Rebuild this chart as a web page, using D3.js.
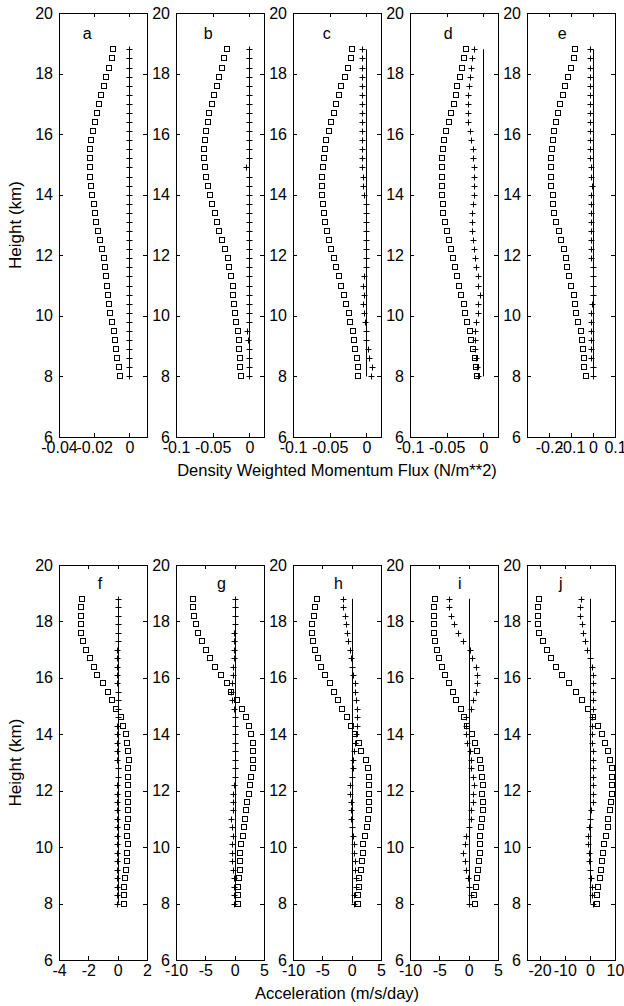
<!DOCTYPE html>
<html>
<head>
<meta charset="utf-8">
<script src="https://cdn.jsdelivr.net/npm/d3@7"></script>
<style>
  body { margin: 0; background: #fff; }
  svg { display: block; font-family: "Liberation Sans", Arial, sans-serif; }
</style>
</head>
<body>
<svg id="chart" width="624" height="1006"></svg>
<script>
// heights of the profile points (km)
var heights = [8.0, 8.3, 8.6, 8.9, 9.2, 9.5, 9.8, 10.1, 10.4, 10.7, 11.0, 11.3, 11.6, 11.9, 12.2, 12.5, 12.8, 13.1, 13.4,
    13.7, 14.0, 14.3, 14.6, 14.9, 15.2, 15.5, 15.8, 16.1, 16.4, 16.7, 17.0, 17.3, 17.6, 17.9, 18.2, 18.5, 18.8];

var panelNames = ["a", "b", "c", "d", "e", "f", "g", "h", "i", "j"];
var yTicks = [6, 8, 10, 12, 14, 16, 18, 20];
var xDomains = [[-0.04, 0.01], [-0.1, 0.02], [-0.1, 0.02], [-0.1, 0.02], [-0.3, 0.1],
    [-4, 2], [-10, 5], [-10, 5], [-10, 5], [-25, 10]];
var xTicks = [[-0.04, -0.02, 0], [-0.1, -0.05, 0], [-0.1, -0.05, 0], [-0.1, -0.05, 0], [-0.2, -0.1, 0, 0.1],
    [-4, -2, 0, 2], [-10, -5, 0, 5], [-10, -5, 0, 5], [-10, -5, 0, 5], [-20, -10, 0, 10]];
var letterX = [-0.024, -0.056, -0.054, -0.048, -0.14, -1.2, -2.25, -2.25, -1.5, -11.6];
var xLabels = ["Density Weighted Momentum Flux (N/m**2)", "Acceleration (m/s/day)"];

// squares
var squaresA = [-0.0054, -0.0061, -0.0069, -0.0074, -0.0080, -0.0087, -0.0100, -0.0109, -0.0115, -0.0120, -0.0128, -0.0135,
    -0.0141, -0.0146, -0.0156, -0.0167, -0.0180, -0.0187, -0.0193, -0.0202, -0.0210, -0.0217, -0.0224, -0.0224, -0.0224,
    -0.0224, -0.0220, -0.0207, -0.0193, -0.0185, -0.0172, -0.0159, -0.0144, -0.0131, -0.0115, -0.0100, -0.0091];
var squaresB = [-0.0113, -0.0122, -0.0126, -0.0140, -0.0144, -0.0153, -0.0176, -0.0189, -0.0203, -0.0216, -0.0225, -0.0248,
    -0.0275, -0.0293, -0.0329, -0.0369, -0.0410, -0.0446, -0.0473, -0.0513, -0.0531, -0.0563, -0.0590, -0.0608, -0.0621,
    -0.0621, -0.0603, -0.0590, -0.0563, -0.0545, -0.0513, -0.0482, -0.0446, -0.0414, -0.0378, -0.0342, -0.0302];
var squaresC = [-0.0120, -0.0120, -0.0134, -0.0156, -0.0169, -0.0187, -0.0219, -0.0236, -0.0277, -0.0308, -0.0343, -0.0379,
    -0.0410, -0.0446, -0.0477, -0.0513, -0.0533, -0.0558, -0.0580, -0.0589, -0.0602, -0.0605, -0.0598, -0.0589, -0.0580,
    -0.0558, -0.0544, -0.0513, -0.0477, -0.0446, -0.0410, -0.0379, -0.0343, -0.0290, -0.0254, -0.0214, -0.0201];
var squaresD = [-0.0089, -0.0103, -0.0120, -0.0143, -0.0165, -0.0178, -0.0223, -0.0254, -0.0263, -0.0299, -0.0326, -0.0357,
    -0.0388, -0.0410, -0.0442, -0.0473, -0.0495, -0.0522, -0.0544, -0.0549, -0.0566, -0.0566, -0.0566, -0.0566, -0.0566,
    -0.0544, -0.0531, -0.0513, -0.0473, -0.0437, -0.0406, -0.0379, -0.0361, -0.0321, -0.0290, -0.0263, -0.0241];
var squaresE = [-0.033, -0.039, -0.039, -0.044, -0.051, -0.056, -0.067, -0.075, -0.080, -0.086, -0.098, -0.109,
    -0.117, -0.122, -0.134, -0.145, -0.155, -0.168, -0.176, -0.181, -0.184, -0.189, -0.192, -0.192, -0.189,
    -0.187, -0.181, -0.176, -0.168, -0.161, -0.150, -0.137, -0.125, -0.114, -0.101, -0.087, -0.083];
var squaresF = [0.45, 0.45, 0.45, 0.52, 0.57, 0.64, 0.64, 0.68, 0.64, 0.64, 0.73, 0.73, 0.73, 0.73, 0.73, 0.73, 0.73,
    0.75, 0.68, 0.61, 0.55, 0.39, 0.20, -0.11, -0.41, -0.68, -1.02, -1.39, -1.61, -1.89, -2.16, -2.34, -2.52, -2.52,
    -2.52, -2.52, -2.45];
var squaresG = [0.56, 0.56, 0.56, 0.68, 0.85, 0.85, 0.96, 1.07, 1.36, 1.53, 1.81, 1.92, 2.09, 2.37, 2.66, 2.77, 3.05,
    3.10, 3.05, 3.05, 2.77, 2.37, 1.98, 1.24, 0.40, -0.56, -1.30, -2.26, -3.28, -4.12, -4.97, -5.65, -6.27, -6.67,
    -6.95, -7.12, -7.06];
var squaresH = [1.02, 1.02, 1.30, 1.30, 1.53, 1.69, 1.86, 1.98, 2.26, 2.54, 2.82, 3.0, 3.0, 3.0, 3.0, 3.0, 2.82,
    2.4, 1.6, 1.24, 0.5, -0.17, -0.73, -1.58, -2.26, -2.99, -3.67, -4.63, -5.20, -5.76, -6.33, -6.61, -6.78, -6.78,
    -6.50, -6.33, -5.93];
var squaresI = [1.02, 0.90, 1.19, 1.47, 1.58, 1.75, 1.86, 1.86, 1.98, 2.15, 2.32, 2.43, 2.43, 2.32, 2.43, 2.32, 2.03,
    1.86, 1.47, 1.02, 0.56, -0.23, -0.79, -1.36, -2.09, -2.66, -3.33, -3.95, -4.63, -5.03, -5.48, -5.76, -5.88, -5.88,
    -5.88, -5.88, -5.76];
var squaresJ = [2.7, 2.7, 3.3, 4.0, 4.4, 4.9, 5.3, 5.7, 6.3, 7.1, 7.3, 8.0, 8.4, 8.7, 8.7, 8.7, 8.7, 8.0, 7.1, 6.0,
    4.9, 3.1, 1.1, -0.9, -3.3, -5.7, -8.3, -10.9, -13.3, -15.3, -16.9, -18.7, -20.3, -20.7, -20.7, -20.7, -20.3];

// plus signs
var plusA = [0, 0, 0, 0, 0, 0, 0, 0, 0, 0, 0, 0, 0, 0, 0, 0, 0, 0, 0, 0, 0, 0, 0, 0, 0, 0, 0, 0, 0, 0, 0, 0, 0, 0, 0, 0, 0];
var plusB = [-0.001, -0.001, -0.001, -0.001, -0.002, -0.003, -0.001, -0.001, -0.001, -0.001, -0.001, 0, 0, 0, 0, 0, 0,
    0, 0, 0, 0, 0, 0, -0.004, 0, 0, 0, 0, 0, 0, 0, 0, 0, 0, 0, 0, 0];
var plusC = [0.0062, 0.0071, 0.0040, 0.0022, 0, 0, -0.0022, -0.0036, -0.0040, -0.0036, -0.0040, -0.0036, -0.0009,
    -0.0009, -0.0009, -0.0009, -0.0004, 0, 0, -0.001, -0.003, -0.004, -0.0049, -0.0062, -0.0062, -0.0062, -0.0062,
    -0.0062, -0.0062, -0.0062, -0.0062, -0.0062, -0.0062, -0.0062, -0.0062, -0.0062, -0.0058];
var plusD = [-0.0076, -0.0089, -0.0103, -0.0116, -0.0120, -0.0120, -0.0098, -0.0076, -0.0067, -0.0045, -0.0067, -0.0067,
    -0.0098, -0.0116, -0.0134, -0.0147, -0.0156, -0.0156, -0.0152, -0.0143, -0.0134, -0.0134, -0.0134, -0.0134, -0.0138,
    -0.0147, -0.0165, -0.0178, -0.0210, -0.0210, -0.0210, -0.0210, -0.0196, -0.0183, -0.0169, -0.0156, -0.0125];
var plusE = [-0.002, 0, -0.008, -0.011, -0.011, -0.011, -0.008, -0.008, -0.005, 0, 0.002, 0.002, 0, -0.008, -0.011,
    -0.011, -0.011, -0.011, -0.011, -0.011, -0.008, -0.005, -0.008, -0.011, -0.012, -0.012, -0.012, -0.012, -0.012,
    -0.012, -0.012, -0.012, -0.012, -0.012, -0.012, -0.012, -0.012];
var plusF = [-0.07, -0.07, -0.07, -0.07, -0.07, -0.07, -0.07, -0.07, -0.07, -0.07, -0.07, -0.07, -0.07, -0.07, -0.05,
    0, 0, -0.05, -0.05, -0.05, -0.05, -0.05, 0, 0.05, 0.05, 0, -0.07, -0.07, -0.07, -0.07, -0.07, 0, 0, 0, 0, 0, 0];
var plusG = [-0.17, -0.17, -0.17, -0.17, -0.34, -0.45, -0.45, -0.45, -0.34, -0.45, -0.56, -0.34, -0.28, -0.28, -0.17,
    0, 0, 0.11, 0.11, 0.11, 0.11, 0.11, 0, -0.17, -0.45, -0.56, -0.45, -0.34, -0.34, -0.17, -0.17, -0.17, -0.17,
    0, 0, 0, 0];
var plusH = [0.40, 0.45, 0.73, 0.73, 0.56, 0.56, 0.40, 0.40, 0.28, 0, -0.1, -0.17, -0.17, -0.28, -0.28, 0, 0.28,
    0.17, 0.4, 0.5, 0.73, 0.85, 0.96, 0.96, 0.73, 0.56, 0.56, 0.28, 0, -0.11, -0.28, -0.56, -0.73, -0.96, -1.13,
    -1.41, -1.41];
var plusI = [0, 0.45, 0.06, -0.1, -0.40, -0.68, -0.96, -0.56, -0.40, 0, 0.34, 0.45, 0.73, 0.73, 0.85, 0.73, 0.45,
    0.34, 0.17, -0.23, -0.5, -0.40, -0.40, 0.34, 0.73, 1.30, 1.47, 1.47, 1.30, 0.56, 0.17, -0.96, -1.81, -2.49,
    -3.05, -3.33, -3.33];
var plusJ = [1.1, 0.7, 0.7, 0.4, 0, -0.4, -0.4, -0.7, -0.7, -0.4, 0, 0.4, 1.1, 1.3, 1.3, 1.3, 1.1, 1.1, 1.1, 0.7,
    0.7, 0.7, 0.7, 1.1, 1.3, 1.3, 1.3, 1.1, 0.7, 0, -1.1, -2.0, -2.7, -3.3, -4.0, -4.0, -3.6];

var squareSeries = [squaresA, squaresB, squaresC, squaresD, squaresE, squaresF, squaresG, squaresH, squaresI, squaresJ];
var plusSeries = [plusA, plusB, plusC, plusD, plusE, plusF, plusG, plusH, plusI, plusJ];

var svg = d3.select("#chart");
svg.append("rect").attr("width", 624).attr("height", 1006).attr("fill", "#fff");

var rowTop = [13, 565], rowBottom = [437, 960];
var panelW = 88, left0 = 59.3, step = 116.85;
var fmt = function(v) { return String(v); };

panelNames.forEach(function(name, i) {
    var row = i < 5 ? 0 : 1, col = i % 5;
    var left = Math.round(left0 + col * step), top = rowTop[row];
    var h = rowBottom[row] - top;

    var x = d3.scaleLinear().domain(xDomains[i]).range([0, panelW]);
    var y = d3.scaleLinear().domain([6, 20]).range([h, 0]);

    var g = svg.append("g").attr("transform", "translate(" + left + "," + top + ")");

    // ticks on all four sides, pointing inward
    var axes = [
        [d3.axisBottom(x).tickValues(xTicks[i]).tickFormat(fmt), "translate(0," + h + ")"],
        [d3.axisTop(x).tickValues(xTicks[i]).tickFormat(""), null],
        [d3.axisLeft(y).tickValues(yTicks).tickFormat(fmt), null],
        [d3.axisRight(y).tickValues(yTicks).tickFormat(""), "translate(" + panelW + ",0)"]
    ];
    axes.forEach(function(a, k) {
        var ag = g.append("g");
        if (a[1]) ag.attr("transform", a[1]);
        ag.call(a[0].tickSize(-4).tickPadding(k == 2 ? 6 : 5));
        ag.select(".domain").remove();
        ag.attr("font-family", null).attr("font-size", 16);
        ag.selectAll("line").attr("stroke", "#000").attr("shape-rendering", "crispEdges");
        ag.selectAll("text").attr("fill", "#000");
    });

    g.append("rect")
        .attr("x", 0.5).attr("y", 0.5)
        .attr("width", panelW).attr("height", h)
        .attr("fill", "none").attr("stroke", "#000").attr("stroke-width", 1)
        .attr("shape-rendering", "crispEdges");

    // reference line at zero
    var line = d3.line().x(function(d) { return Math.round(x(0)) + 0.5; }).y(function(d) { return y(d); });
    g.append("path")
        .datum([heights[0], heights[heights.length - 1]])
        .attr("d", line)
        .attr("fill", "none").attr("stroke", "#000").attr("stroke-width", 1);

    g.selectAll(".sq")
        .data(squareSeries[i])
        .enter().append("rect")
        .attr("class", "sq")
        .attr("x", function(d) { return Math.round(x(d)) - 2.5; })
        .attr("y", function(d, j) { return Math.round(y(heights[j])) - 2.5; })
        .attr("width", 5).attr("height", 5)
        .attr("fill", "none").attr("stroke", "#000").attr("stroke-width", 1);

    g.selectAll(".pl")
        .data(plusSeries[i])
        .enter().append("path")
        .attr("class", "pl")
        .attr("d", function(d, j) {
            var cx = Math.round(x(d)) + 0.5, cy = Math.round(y(heights[j])) + 0.5;
            return "M" + (cx - 3) + "," + cy + "H" + (cx + 3) + "M" + cx + "," + (cy - 3) + "V" + (cy + 3);
        })
        .attr("fill", "none").attr("stroke", "#000").attr("stroke-width", 1);

    g.append("text")
        .attr("x", x(letterX[i]))
        .attr("y", y(19.14))
        .attr("text-anchor", "middle")
        .attr("font-size", 16)
        .text(name);
});

// axis titles
[0, 1].forEach(function(row) {
    var mid = (rowTop[row] + rowBottom[row]) / 2;
    svg.append("text")
        .attr("transform", "translate(21," + mid + ") rotate(-90)")
        .attr("text-anchor", "middle")
        .attr("font-size", 17)
        .text("Height (km)");
    svg.append("text")
        .attr("x", Math.round(left0 + 2 * step) + panelW / 2)
        .attr("y", rowBottom[row] + 39)
        .attr("text-anchor", "middle")
        .attr("font-size", 16.5)
        .text(xLabels[row]);
});
</script>
</body>
</html>
